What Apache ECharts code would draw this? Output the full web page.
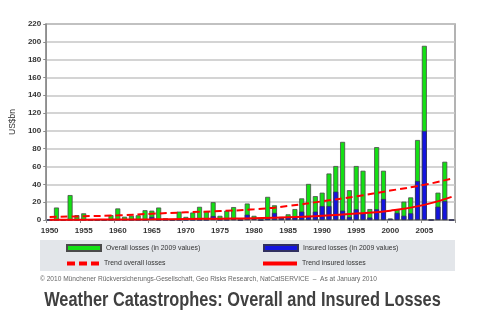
<!DOCTYPE html>
<html>
<head>
<meta charset="utf-8">
<script src="https://cdn.jsdelivr.net/npm/echarts@6/dist/echarts.min.js"></script>
<style>
html,body{margin:0;padding:0;background:#fff;}
#chart{width:480px;height:329px;}
</style>
</head>
<body>
<div id="chart"></div>
<script>
const years = ['1950','1951','1952','1953','1954','1955','1956','1957','1958','1959',
  '1960','1961','1962','1963','1964','1965','1966','1967','1968','1969',
  '1970','1971','1972','1973','1974','1975','1976','1977','1978','1979',
  '1980','1981','1982','1983','1984','1985','1986','1987','1988','1989',
  '1990','1991','1992','1993','1994','1995','1996','1997','1998','1999',
  '2000','2001','2002','2003','2004','2005','2006','2007','2008','2009'];
const overallLosses = [0,14,0,28,5.5,7.5,0,0,0,5.5,
  13,3.7,4.7,5.3,11,10.5,14,2,0,9.4,
  3.5,8.4,14.8,10,20,4.7,10.5,14.5,0,18.5,
  4.7,0,26,16.5,3.5,6.4,12.3,24.3,40.5,26.8,
  30.7,52.2,60.6,87.7,33.5,60.6,55.3,12.3,81.8,55.3,
  1.7,12,20.6,25.4,89.8,195.5,0,30.7,65.4,0];
const insuredLosses = [0,0,0,0,0,0,0,0,0,0,
  0,0,0,0,0,3.5,0,0,0,0,
  0,0,0,0,4.5,0,0,0.8,0,6,
  1,0,2,8,2.5,3.5,3,9.4,4.5,9.4,
  15.7,15.7,31.8,10.5,3.5,12,7.3,2.8,12,23.6,
  1.2,8,4.8,7.5,43.8,100,0,15,21.3,0];
// trend values at 5-year points (null = not read)
const trendOverall = [3.4,null,null,null,null,4.2,null,null,null,null,
  5.2,null,null,null,null,7,null,null,null,null,
  8.6,null,null,null,null,10,null,null,null,null,
  12,null,null,null,null,15.7,null,null,null,null,
  21,null,null,null,null,26.5,null,null,null,null,
  33,null,null,null,null,39.5,null,null,null,46.5];
const trendInsured = [0.3,null,null,null,null,0.4,null,null,null,null,
  0.6,null,null,null,null,0.8,null,null,null,null,
  1.1,null,null,null,null,1.5,null,null,null,null,
  2,null,null,null,null,3,null,null,null,null,
  4.8,null,null,null,null,7.3,null,null,null,null,
  10.5,null,null,null,null,17,null,null,null,26];
const yTicks = {min:0, max:220, interval:20};
const titleText = 'Weather Catastrophes: Overall and Insured Losses';
const sourceText = '\u00a9 2010 M\u00fcnchener R\u00fcckversicherungs-Gesellschaft, Geo Risks Research, NatCatSERVICE  \u2013  As at January 2010';
const seriesNames = ['Overall losses (in 2009 values)','Insured losses (in 2009 values)','Trend overall losses','Trend insured losses'];

const chart = echarts.init(document.getElementById('chart'), null, {renderer:'canvas'});
const legendText = {fontSize:6.9, color:'#333', fontFamily:'Liberation Sans, Arial, sans-serif'};
const dashIcon = 'path://M0,0L8,0L8,4L0,4Z M12,0L20,0L20,4L12,4Z M24,0L32,0L32,4L24,4Z';
function leg(item, left, top, h, w){
  return {orient:'vertical', left:left, top:top, padding:0, itemWidth:w||34, itemHeight:h,
    textStyle:legendText, data:[item]};
}
chart.setOption({
  animation:false,
  backgroundColor:'#fff',
  textStyle:{fontFamily:'Liberation Sans, Arial, sans-serif'},
  graphic:[
    {type:'rect', left:40, top:240, shape:{width:415, height:31}, style:{fill:'#e3e6ea'}, z:-1},
    {type:'text', x:40, y:279.5, scaleX:0.94, z:5,
     style:{text:sourceText, font:'7px "Liberation Sans", Arial, sans-serif', fill:'#666', textAlign:'left', textVerticalAlign:'middle'}},
    {type:'text', x:242.5, y:300, scaleX:0.817, z:5,
     style:{text:titleText, font:'bold 20px "Liberation Sans", Arial, sans-serif', fill:'#404040', textAlign:'center', textVerticalAlign:'middle'}}
  ],
  legend:[
    leg({name:seriesNames[0], icon:'rect'}, 66, 244, 6),
    leg({name:seriesNames[1], icon:'rect'}, 263, 244, 6),
    leg({name:seriesNames[2], icon:dashIcon}, 67, 260, 4, 32),
    leg({name:seriesNames[3], icon:'rect'}, 263, 260, 4)
  ],
  grid:{left:42, right:25, top:24, bottom:109, show:true, borderColor:'#9a9a9a', borderWidth:1.5, backgroundColor:'transparent'},
  xAxis:{
    type:'category', data:years, boundaryGap:true,
    axisLine:{lineStyle:{color:'#8a8a8a', width:1.5}},
    axisTick:{show:true, length:3, lineStyle:{color:'#8a8a8a'}},
    axisLabel:{interval:(i)=> i%5===0, fontSize:8, color:'#333', margin:7, fontWeight:'bold'}
  },
  yAxis:{
    type:'value', min:yTicks.min, max:yTicks.max, interval:yTicks.interval,
    name:'US$bn', nameLocation:'middle', nameGap:21, nameRotate:90,
    nameTextStyle:{fontSize:8.5, color:'#333'},
    axisLine:{show:true, lineStyle:{color:'#8a8a8a', width:1.5}},
    axisTick:{show:true, length:3, lineStyle:{color:'#8a8a8a'}},
    axisLabel:{fontSize:8, color:'#333', margin:5, fontWeight:'bold'},
    splitLine:{lineStyle:{color:'#c6c6c6', width:1.5}}
  },
  series:[
    {name:seriesNames[0], type:'bar', data:overallLosses, barWidth:5,
     itemStyle:{color:'#14e014', borderColor:'#4a4a4a', borderWidth:0.8}, z:2},
    {name:seriesNames[1], type:'bar', data:insuredLosses, barWidth:5, barGap:'-100%',
     itemStyle:{color:'#1414e0', borderColor:'#303060', borderWidth:0.8}, z:3},
    {name:seriesNames[2], type:'line', data:trendOverall, connectNulls:true, smooth:true,
     symbol:'none', lineStyle:{color:'#ff0000', width:2, type:[7,4]}, itemStyle:{color:'#ff0000'}, z:5},
    {name:seriesNames[3], type:'line', data:trendInsured, connectNulls:true, smooth:true,
     symbol:'none', lineStyle:{color:'#ff0000', width:2}, itemStyle:{color:'#ff0000'}, z:5}
  ]
});
</script>
</body>
</html>
